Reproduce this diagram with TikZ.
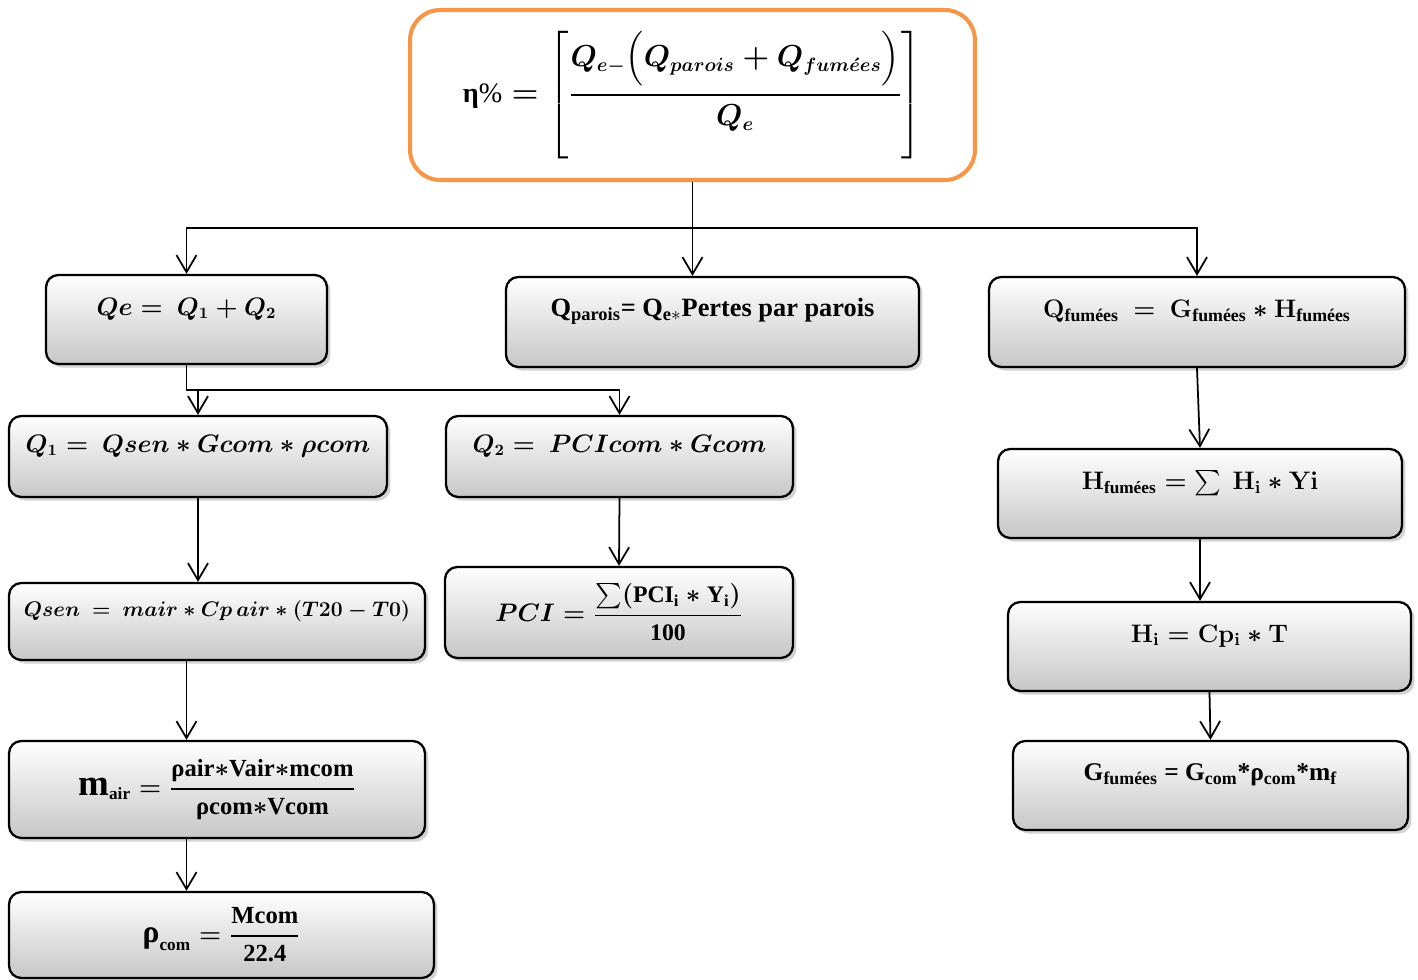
\documentclass[tikz,border=0pt]{standalone}
\usepackage{amsmath}
\usepackage{fontspec}
\setmainfont{Liberation Serif}
\usetikzlibrary{arrows.meta,shadows}
\definecolor{orangecadre}{HTML}{F79646}
\newcommand\haut[1]{\raisebox{6pt}[\height][\depth]{#1}}
\newcommand\barre[2]{\genfrac{}{}{1.1pt}{0}{#1}{#2}}

\begin{document}
\begin{tikzpicture}[x=0.02cm, y=-0.02cm,
	boite/.style={draw, rectangle, rounded corners=7pt, line width=1.3pt,
		top color=white, bottom color=black!22,
		drop shadow={shadow xshift=2pt, shadow yshift=-2pt, opacity=0.35},
		font=\fontsize{13.5}{16}\selectfont\boldmath},
	titre/.style={draw=orangecadre, rectangle, rounded corners=0.6cm, line width=2.3pt,
		fill=white, font=\fontsize{16}{19}\selectfont\boldmath},
	fleche/.style={-{Straight Barb[length=0.34cm, width=0.4cm]}, line width=1pt},
	lien/.style={line width=1pt}]
	\useasboundingbox (0,0) rectangle (1418,980);

	\node (rendement) [titre, minimum width=11.3cm, minimum height=3.4cm] at (692.5,95)
		{$\text{\textbf{η}\%} = \left[\genfrac{}{}{1.4pt}{0}{Q_{e-}\Bigl(Q_{parois} + Q_{fum\acute{e}es}\Bigr)}{Q_e}\right]$};

	\node (qe) [boite, minimum width=5.62cm, minimum height=1.78cm] at (186.5,319.5)
		{\haut{$Qe =\ Q_1 + Q_2$}};
	\node (qparois) [boite, minimum width=8.26cm, minimum height=1.8cm, font=\fontsize{15}{18}\selectfont] at (712.5,322)
		{\haut{\textbf{Q\textsubscript{parois}= Q\textsubscript{e$*$}Pertes par parois}}};
	\node (qfumees) [boite, minimum width=8.32cm, minimum height=1.8cm, font=\fontsize{14.5}{17}\selectfont\boldmath] at (1197,322)
		{\haut{$\mathbf{Q}_{\textbf{fumées}}\ =\ \mathbf{G}_{\textbf{fumées}} * \mathbf{H}_{\textbf{fumées}}$}};

	\node (q1) [boite, minimum width=7.56cm, minimum height=1.62cm] at (198,456.5)
		{\haut{$Q_1 =\ Qsen * Gcom * \rho com$}};
	\node (q2) [boite, minimum width=6.94cm, minimum height=1.62cm] at (619.5,456.5)
		{\haut{$Q_2 =\ PCIcom * Gcom$}};
	\node (qsen) [boite, minimum width=8.32cm, minimum height=1.54cm, font=\fontsize{12}{14}\selectfont\boldmath] at (217,621.5)
		{\haut{$Qsen\ =\ mair * Cp\,air * (T20 - T0)$}};
	\node (pci) [boite, minimum width=6.96cm, minimum height=1.82cm] at (619,612.5)
		{$PCI = \genfrac{}{}{0.8pt}{0}{\textstyle\sum(\textbf{PCI}_{\textbf{i}} * \textbf{Y}_{\textbf{i}})}{\textbf{100}}$};
	\node (mair) [boite, minimum width=8.32cm, minimum height=1.94cm, font=\fontsize{14}{17}\selectfont\boldmath] at (217,789.5)
		{$\text{\fontsize{21}{24}\selectfont\textbf{m}}_{\textbf{air}} = \barre{\textbf{ρair}{*}\textbf{Vair}{*}\textbf{mcom}}{\textbf{ρcom}{*}\textbf{Vcom}}$};
	\node (rhocom) [boite, minimum width=8.5cm, minimum height=1.72cm, font=\fontsize{14}{17}\selectfont\boldmath] at (221.5,935)
		{$\textbf{\fontsize{18}{20}\selectfont ρ}_{\textbf{com}} = \barre{\textbf{Mcom}}{\textbf{22.4}}$};

	\node (hfumees) [boite, minimum width=8.08cm, minimum height=1.78cm, font=\fontsize{14}{17}\selectfont\boldmath] at (1200,493.5)
		{\haut{$\mathbf{H}_{\textbf{fumées}} = \sum\ \mathbf{H_i} * \mathbf{Yi}$}};
	\node (hi) [boite, minimum width=8.06cm, minimum height=1.78cm, font=\fontsize{14}{17}\selectfont\boldmath] at (1209.5,646.5)
		{\haut{$\mathbf{H_i} = \mathbf{Cp_i} * \mathbf{T}$}};
	\node (gfumees) [boite, minimum width=7.9cm, minimum height=1.78cm, font=\fontsize{14.5}{17}\selectfont] at (1210.5,785.5)
		{\haut{\textbf{G\textsubscript{fumées} = G\textsubscript{com}*ρ\textsubscript{com}*m\textsubscript{f}}}};

	% branches du haut
	\coordinate (tronc) at (692.5,228);
	\draw[lien] (rendement.south) -- (tronc);
	\draw[fleche] (tronc) -| (qe.north);
	\draw[fleche] (tronc) -| (qfumees.north);
	\draw[fleche] (tronc) -- (tronc |- qparois.north);

	% Qe vers Q1 et Q2
	\coordinate (bif) at (186.5,390);
	\draw[lien] (qe.south) -- (bif) -- (bif -| q2.north);
	\draw[fleche] (bif -| q1.north) -- (q1.north);
	\draw[fleche] (bif -| q2.north) -- (q2.north);

	\draw[fleche] (q1.south) -- (q1.south |- qsen.north);
	\draw[fleche] (q2.south) -- (pci.north);
	\draw[fleche] (qsen.south -| qe.south) -- (mair.north -| qe.south);
	\draw[fleche] (mair.south -| qe.south) -- (rhocom.north -| qe.south);

	\draw[fleche] (qfumees.south) -- (hfumees.north);
	\draw[fleche] (hfumees.south) -- (hfumees.south |- hi.north);
	\draw[fleche] (hi.south) -- (gfumees.north);
\end{tikzpicture}
\end{document}
